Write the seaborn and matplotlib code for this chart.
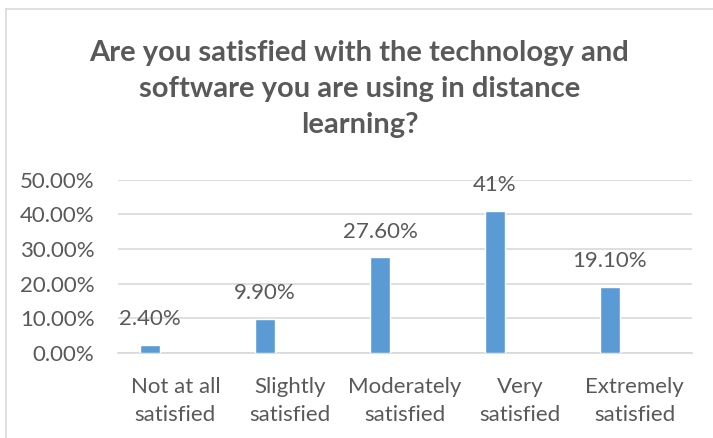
import matplotlib
matplotlib.use("Agg")
import matplotlib.pyplot as plt
import seaborn as sns
import pandas as pd
import numpy as np
from matplotlib.patches import Rectangle

categories = ["Not at all\nsatisfied", "Slightly\nsatisfied", "Moderately\nsatisfied",
              "Very\nsatisfied", "Extremely\nsatisfied"]
values = [2.4, 9.9, 27.6, 41.0, 19.1]
empty_series = [np.nan] * 5  # hidden second series (Excel layout)
value_labels = ["2.40%", "9.90%", "27.60%", "41%", "19.10%"]
yticks = [0, 10, 20, 30, 40, 50]
title = "Are you satisfied with the technology and\nsoftware you are using in distance\nlearning?"

sns.set_theme(style="white")
plt.rcParams['font.family'] = ['Lato', 'DejaVu Sans']

text_color = "#595959"
bar_color = "#5B9BD5"
grid_color = "#D9D9D9"

fig = plt.figure(figsize=(7.13, 4.38), dpi=100)
ax = fig.add_axes([118/713, 1-353/438, (692-118)/713, (353-179.5)/438])

df = pd.DataFrame({
    "cat": categories * 2,
    "val": values + empty_series,
    "series": ["A"] * 5 + ["B"] * 5,
})
sns.barplot(data=df, x="cat", y="val", hue="series", hue_order=["A", "B"],
            palette=[bar_color, bar_color], width=0.872, gap=0.6, dodge=True,
            saturation=1, ax=ax, zorder=3, legend=False)

ax.set_xlim(-0.5, len(categories) - 0.5)
ax.set_ylim(0, 50)
ax.set_yticks(yticks)
ax.set_yticklabels([f"{v:.2f}%" for v in yticks], fontsize=16, color=text_color)
ax.tick_params(axis='x', labelsize=16, colors=text_color, length=0, pad=17)
ax.tick_params(axis='y', length=0, pad=17)
for lab in ax.get_xticklabels():
    lab.set_linespacing(1.55)
ax.set_xlabel("")
ax.set_ylabel("")
ax.grid(axis='y', color=grid_color, linewidth=1.2, zorder=0)
ax.set_axisbelow(True)
for s in ["top", "right", "left"]:
    ax.spines[s].set_visible(False)
ax.spines["bottom"].set_color(grid_color)
ax.spines["bottom"].set_linewidth(1.2)
ax.spines["bottom"].set_zorder(1)

bars = [p for p in ax.patches if p.get_height() > 0]
bars.sort(key=lambda p: p.get_x())
for p, lbl in zip(bars, value_labels):
    ax.annotate(lbl, (p.get_x() + p.get_width() / 2, p.get_height()),
                xytext=(0, 11), textcoords="offset points",
                ha="center", va="bottom", fontsize=16, color=text_color)

fig.text(0.5 * (6/713 + 1), 1-89/438, title, ha="center", va="center",
         fontsize=21, fontweight="bold", color=text_color, linespacing=1.5)

fig.patches.append(Rectangle((6/713, -0.1), 1.2, 1.1 - 9/438, transform=fig.transFigure,
                             fill=False, edgecolor="#D9D9D9", linewidth=1.2))

fig.savefig("out.png", dpi=100, facecolor="white")
